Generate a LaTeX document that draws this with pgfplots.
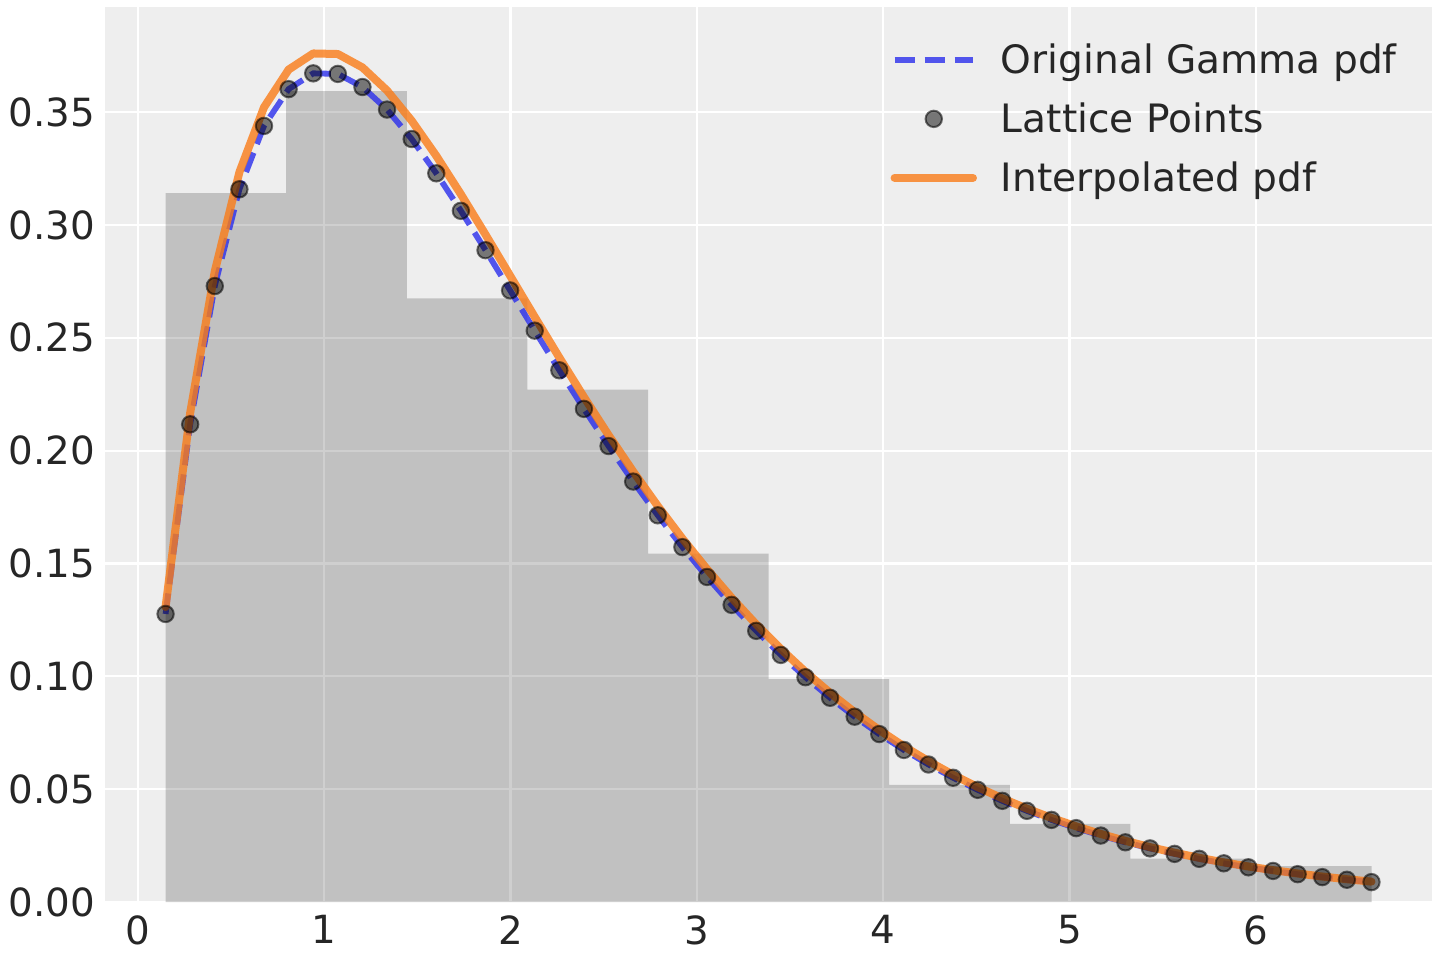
\documentclass[border=0pt]{standalone}
\usepackage{pgfplots}
\pgfplotsset{compat=1.18}
\usepackage{pgfplotstable}
\usepackage{fontspec}
\setmainfont{DejaVu Sans}
\definecolor{bgc}{HTML}{EEEEEE}
\definecolor{tickc}{HTML}{262626}
\definecolor{cblue}{HTML}{2A2EEC}
\definecolor{corange}{HTML}{FA7C17}

\pgfplotsset{
  linelegend/.style={legend image code/.code={\draw[##1] (0pt,6.7pt) -- (39.2pt,6.7pt);}},
  marklegend/.style={legend image code/.code={\draw[##1] plot coordinates {(19.6pt,6.7pt)};}},
}

\pgfplotstableread{
x pdf interp
0.1480 0.12764 0.13070
0.2801 0.21167 0.21675
0.4122 0.27295 0.27950
0.5443 0.31583 0.32341
0.6764 0.34391 0.35216
0.8085 0.36021 0.36886
0.9406 0.36720 0.37601
1.0727 0.36695 0.37576
1.2048 0.36114 0.36981
1.3369 0.35115 0.35958
1.4690 0.33810 0.34621
1.6011 0.32290 0.33065
1.7332 0.30628 0.31363
1.8653 0.28884 0.29577
1.9974 0.27102 0.27752
2.1295 0.25319 0.25927
2.2616 0.23562 0.24127
2.3937 0.21852 0.22376
2.5258 0.20205 0.20690
2.6579 0.18631 0.19078
2.7900 0.17136 0.17547
2.9221 0.15727 0.16104
3.0542 0.14404 0.14750
3.1863 0.13167 0.13483
3.3184 0.12016 0.12304
3.4505 0.10949 0.11212
3.5826 0.09961 0.10200
3.7147 0.09050 0.09267
3.8468 0.08212 0.08409
3.9789 0.07443 0.07622
4.1110 0.06738 0.06900
4.2431 0.06094 0.06240
4.3752 0.05506 0.05638
4.5073 0.04971 0.05090
4.6394 0.04483 0.04591
4.7715 0.04040 0.04137
4.9036 0.03638 0.03725
5.0357 0.03274 0.03353
5.1678 0.02944 0.03015
5.2999 0.02646 0.02710
5.4320 0.02376 0.02433
5.5641 0.02133 0.02184
5.6962 0.01913 0.01959
5.8283 0.01715 0.01756
5.9604 0.01537 0.01574
6.0925 0.01377 0.01410
6.2246 0.01233 0.01263
6.3567 0.01103 0.01129
6.4888 0.00986 0.01010
6.6209 0.00882 0.00903
}\lattice

\pgfplotstableread{
left height
0.148 0.3141
0.795 0.3593
1.443 0.2675
2.090 0.2271
2.738 0.1544
3.385 0.0988
4.032 0.0519
4.680 0.0346
5.327 0.0192
5.975 0.0159
6.622 0.0159
}\hist

\begin{document}
\begin{tikzpicture}
\useasboundingbox (-52.5pt,-29pt) rectangle (667.5pt,451pt);
\begin{axis}[
  at={(0,0)}, anchor=south west,
  scale only axis, width=663.5pt, height=447.5pt,
  xmin=-0.1771, xmax=6.9458, ymin=0, ymax=0.3966,
  axis background/.style={fill=bgc},
  axis line style={draw=none},
  major tick length=0pt, tick style={draw=none},
  grid=major, grid style={white, line width=1.1pt},
  xtick={0,1,2,3,4,5,6},
  ytick={0,0.05,0.1,0.15,0.2,0.25,0.3,0.35},
  scaled y ticks=false,
  /pgf/number format/assume math mode=true,
  ticklabel style={font=\fontsize{19.4}{23}\selectfont, text=tickc, inner sep=0pt},
  yticklabel style={anchor=east, xshift=-4.8pt, /pgf/number format/fixed, /pgf/number format/fixed zerofill, /pgf/number format/precision=2},
  xticklabel style={anchor=north, yshift=-6.5pt},
  legend style={at={(axis description cs:0.5920,0.95721)}, anchor=north west,
    draw=none, fill=none, inner sep=0pt, outer sep=0pt,
    row sep=11.5pt, column sep=12pt,
    font=\fontsize{19.55}{23}\selectfont, text=tickc,
    cells={anchor=base west},
    nodes={inner sep=0pt, text height=14pt, text depth=4pt}},
]
\addplot[ybar interval, fill=black, fill opacity=0.19, draw=none, forget plot] table[x=left, y=height] {\hist};
\addplot[cblue, draw opacity=0.8, line width=2.9pt, dash pattern=on 10.35pt off 4.65pt, linelegend]
  table[x=x, y=pdf] {\lattice};
\addplot[only marks, mark=*, mark size=4.1pt,
  mark options={fill=black, fill opacity=0.5, draw=black, draw opacity=0.55, line width=1pt},
  marklegend]
  table[x=x, y=pdf] {\lattice};
\addplot[corange, draw opacity=0.8, line width=4pt, line cap=round, line join=round, linelegend]
  table[x=x, y=interp] {\lattice};
\legend{Original Gamma pdf, Lattice Points, Interpolated pdf}
\end{axis}
\end{tikzpicture}
\end{document}
